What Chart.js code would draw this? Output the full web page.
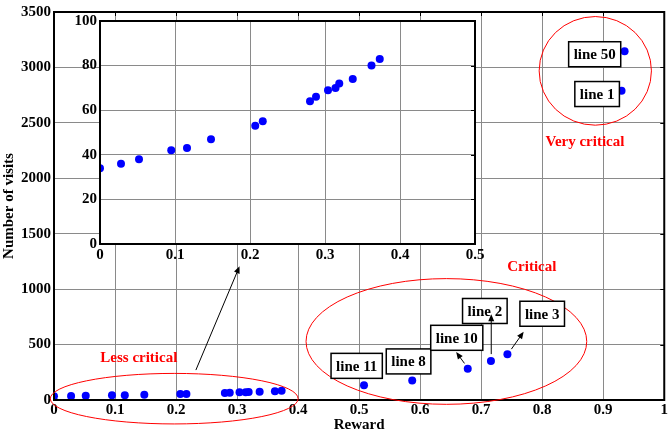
<!DOCTYPE html>
<html>
<head>
<meta charset="utf-8">
<script src="https://cdn.jsdelivr.net/npm/chart.js@4/dist/chart.umd.min.js"></script>
<style>
  body { margin: 0; background: #fff; }
  #wrap { position: relative; width: 669px; height: 434px; }
  #wrap canvas { position: absolute; left: 0; top: 0; }
</style>
</head>
<body>
<div id="wrap">
  <canvas id="main" width="669" height="434"></canvas>
  <canvas id="inset" width="669" height="434"></canvas>
</div>
<script>
// Points near zero reward (shown in main plot and zoomed in the inset)
var lessX = [0, 0.028, 0.052, 0.095, 0.116, 0.148, 0.207, 0.217, 0.280, 0.288, 0.304, 0.314, 0.319, 0.337, 0.362, 0.373];
var lessY = [34, 36, 38, 42, 43, 47, 53, 55, 64, 66, 69, 70, 72, 74, 80, 83];

// Critical lines
var critNames = ['line 11', 'line 8', 'line 10', 'line 2', 'line 3'];
var critX = [0.508, 0.587, 0.678, 0.716, 0.743];
var critY = [132, 177, 282, 351, 412];

// Very critical lines
var veryNames = ['line 50', 'line 1'];
var veryX = [0.935, 0.930];
var veryY = [3147, 2790];

// Tick setup
var mainXTicks = [0, 1, 0.1];
var mainYTicks = [0, 3500, 500];
var insetXTicks = [0, 0.5, 0.1];
var insetYTicks = [0, 100, 20];

var FONT = { family: 'Liberation Serif', size: 15, weight: 'bold' };
Chart.defaults.font = FONT;
Chart.defaults.color = '#000';

function pts(xs, ys) {
    return xs.map(function (x, i) { return { x: x, y: ys[i] }; });
}
function fmt(v) { return String(+Number(v).toFixed(1)); }

// Black frame with small inward ticks on top and right
function framePlugin(tickLen, topTicks) {
    return {
        id: 'frame',
        afterDatasetsDraw: function (chart) {
            var a = chart.chartArea, ctx = chart.ctx;
            var sx = chart.scales.x, sy = chart.scales.y;
            ctx.save();
            ctx.strokeStyle = '#000';
            ctx.lineWidth = 1;
            ctx.beginPath();
            if (topTicks) {
                sx.ticks.forEach(function (t) {
                    var px = Math.round(sx.getPixelForValue(t.value)) + 0.5;
                    ctx.moveTo(px, a.top); ctx.lineTo(px, a.top + tickLen);
                });
            }
            sy.ticks.forEach(function (t) {
                var py = Math.round(sy.getPixelForValue(t.value)) + 0.5;
                ctx.moveTo(a.right, py); ctx.lineTo(a.right - tickLen, py);
            });
            ctx.stroke();
            ctx.lineWidth = 2;
            ctx.strokeRect(a.left, a.top, a.right - a.left, a.bottom - a.top);
            ctx.restore();
        }
    };
}

// Annotations in data units of the main chart
var ellipses = [
    { x: 0.887, y: 2969, rx: 0.092, ry: 490 },
    { x: 0.643, y: 528, rx: 0.230, ry: 567 },
    { x: 0.197, y: 12, rx: 0.203, ry: 228 }
];
var redTexts = [
    { text: 'Very critical', x: 0.870, y: 2339 },
    { text: 'Critical', x: 0.783, y: 1206 },
    { text: 'Less critical', x: 0.139, y: 390 }
];
var boxes = [
    { text: veryNames[0], x: 0.886, y: 3119 },
    { text: veryNames[1], x: 0.890, y: 2760 },
    { text: critNames[0], x: 0.496, y: 308 },
    { text: critNames[1], x: 0.581, y: 348 },
    { text: critNames[2], x: 0.660, y: 561 },
    { text: critNames[3], x: 0.706, y: 803 },
    { text: critNames[4], x: 0.800, y: 778 }
];
var arrows = [
    { x1: 0.7165, y1: 414, x2: 0.7165, y2: 773 },
    { x1: 0.6727, y1: 330, x2: 0.659, y2: 432 },
    { x1: 0.7495, y1: 459, x2: 0.7696, y2: 615 },
    { x1: 0.2325, y1: 270, x2: 0.304, y2: 1206 }
];

var notesPlugin = {
    id: 'notes',
    afterDraw: function (chart) {
        var ctx = chart.ctx, sx = chart.scales.x, sy = chart.scales.y;
        function X(v) { return sx.getPixelForValue(v); }
        function Y(v) { return sy.getPixelForValue(v); }
        var dx = sx.getPixelForValue(1) - sx.getPixelForValue(0);
        var dy = sy.getPixelForValue(0) - sy.getPixelForValue(1);
        ctx.save();
        ctx.font = 'bold 15px "Liberation Serif"';
        ctx.textAlign = 'center';
        ctx.textBaseline = 'middle';

        ctx.strokeStyle = '#ff0000';
        ctx.lineWidth = 1;
        ellipses.forEach(function (e) {
            ctx.beginPath();
            ctx.ellipse(X(e.x), Y(e.y), e.rx * dx, e.ry * dy, 0, 0, Math.PI * 2);
            ctx.stroke();
        });

        ctx.fillStyle = '#ff0000';
        redTexts.forEach(function (t) {
            ctx.fillText(t.text, X(t.x), Y(t.y) + 1);
        });

        boxes.forEach(function (b) {
            var w = ctx.measureText(b.text).width + 10, h = 25;
            var cx = X(b.x), cy = Y(b.y);
            ctx.fillStyle = '#fff';
            ctx.fillRect(cx - w / 2, cy - h / 2, w, h);
            ctx.strokeStyle = '#000';
            ctx.lineWidth = 1.5;
            ctx.strokeRect(cx - w / 2, cy - h / 2, w, h);
            ctx.fillStyle = '#000';
            ctx.fillText(b.text, cx, cy + 1);
        });

        ctx.strokeStyle = '#000';
        ctx.fillStyle = '#000';
        ctx.lineWidth = 1;
        arrows.forEach(function (a) {
            var x1 = X(a.x1), y1 = Y(a.y1), x2 = X(a.x2), y2 = Y(a.y2);
            var ang = Math.atan2(y2 - y1, x2 - x1), L = 7, W = 3;
            ctx.beginPath();
            ctx.moveTo(x1, y1);
            ctx.lineTo(x2 - Math.cos(ang) * L * 0.8, y2 - Math.sin(ang) * L * 0.8);
            ctx.stroke();
            ctx.beginPath();
            ctx.moveTo(x2, y2);
            ctx.lineTo(x2 - Math.cos(ang) * L - Math.sin(ang) * W, y2 - Math.sin(ang) * L + Math.cos(ang) * W);
            ctx.lineTo(x2 - Math.cos(ang) * L + Math.sin(ang) * W, y2 - Math.sin(ang) * L - Math.cos(ang) * W);
            ctx.closePath();
            ctx.fill();
        });
        ctx.restore();
    }
};

var whiteArea = {
    id: 'whiteArea',
    beforeDraw: function (chart) {
        var a = chart.chartArea;
        chart.ctx.save();
        chart.ctx.fillStyle = '#fff';
        chart.ctx.fillRect(a.left, a.top, a.right - a.left, a.bottom - a.top);
        chart.ctx.restore();
    }
};

function blueSet(data) {
    return { data: data, backgroundColor: '#0000ff', borderColor: '#0000ff', pointRadius: 4, borderWidth: 0 };
}

var mainChart = new Chart(document.getElementById('main'), {
    type: 'scatter',
    data: {
        datasets: [
            blueSet(pts(lessX, lessY)),
            blueSet(pts(critX, critY)),
            blueSet(pts(veryX, veryY))
        ]
    },
    options: {
        responsive: false,
        animation: false,
        layout: { padding: { top: 11, right: 3, left: 0, bottom: 0 } },
        plugins: { legend: { display: false }, tooltip: { enabled: false } },
        scales: {
            x: {
                type: 'linear', min: mainXTicks[0], max: mainXTicks[1],
                ticks: { stepSize: mainXTicks[2], padding: 1, maxRotation: 0, autoSkip: false, callback: fmt },
                grid: { color: '#8a8a8a', drawTicks: false },
                border: { display: false },
                title: { display: true, text: 'Reward', padding: 0 },
                afterFit: function (s) { s.height = 34; }
            },
            y: {
                min: mainYTicks[0], max: mainYTicks[1],
                ticks: { stepSize: mainYTicks[2], padding: 3, callback: fmt },
                grid: { color: '#8a8a8a', drawTicks: false },
                border: { display: false },
                title: { display: true, text: 'Number of visits', padding: 0 },
                afterFit: function (s) { s.width = 54; }
            }
        }
    },
    plugins: [framePlugin(4, true), notesPlugin]
});

var insetChart = new Chart(document.getElementById('inset'), {
    type: 'scatter',
    data: { datasets: [blueSet(pts(lessX, lessY))] },
    options: {
        responsive: false,
        animation: false,
        layout: { padding: { top: 21, right: 194, left: 70, bottom: 170 } },
        plugins: { legend: { display: false }, tooltip: { enabled: false } },
        scales: {
            x: {
                type: 'linear', min: insetXTicks[0], max: insetXTicks[1],
                ticks: { stepSize: insetXTicks[2], padding: 2, maxRotation: 0, autoSkip: false, callback: fmt },
                grid: { color: '#8a8a8a', drawTicks: false },
                border: { display: false },
                afterFit: function (s) { s.height = 20; }
            },
            y: {
                min: insetYTicks[0], max: insetYTicks[1],
                ticks: { stepSize: insetYTicks[2], padding: 3, callback: fmt },
                grid: { color: '#8a8a8a', drawTicks: false },
                border: { display: false },
                afterFit: function (s) { s.width = 30; }
            }
        }
    },
    plugins: [whiteArea, framePlugin(4, false)]
});
</script>
</body>
</html>
